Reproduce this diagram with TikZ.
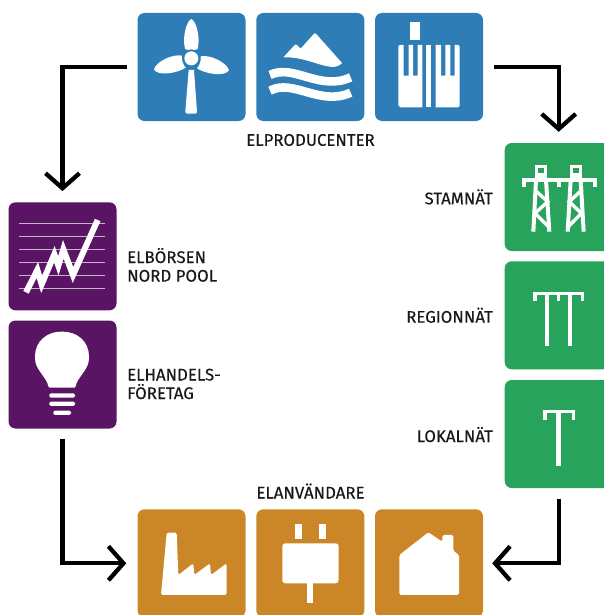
\documentclass[tikz,border=0pt]{standalone}
\usepackage{fontspec}
\setmainfont{Fira Sans}[FakeBold=0.35]
\usetikzlibrary{arrows.meta}
\definecolor{pblue}{HTML}{2E7DB7}
\definecolor{ppurple}{HTML}{591463}
\definecolor{pgreen}{HTML}{27A35C}
\definecolor{porange}{HTML}{CA8627}
\definecolor{pline}{HTML}{C9B2CE}
\tikzset{
  tile/.style={rectangle,rounded corners=7pt,minimum width=108pt,minimum height=108pt,inner sep=0pt,fill=#1},
  lbl/.style={font=\fontsize{16.8}{19}\selectfont,inner sep=0pt,text=black!90},
  flow/.style={line width=4.3pt,-{Straight Barb[length=15pt,width=34pt,line width=4.3pt]},black},
  zoomc/.style={x=0.33333pt,y=-0.33333pt},
  ico/.style={fill=white,rounded corners=1.5pt},
}
\begin{document}
\begin{tikzpicture}[x=1pt,y=-1pt]
\useasboundingbox (0,0) rectangle (604,615);
\clip (0,0) rectangle (604,615);
% tiles
\node[tile=pblue] (wind) at (191.5,67) {};
\node[tile=pblue] (hydro) at (310.3,67) {};
\node[tile=pblue] (plant) at (429,67) {};
\node[tile=ppurple] (borsen) at (62.5,256.3) {};
\node[tile=ppurple] (handel) at (62.5,374.5) {};
\node[tile=pgreen] (stam) at (558.7,197) {};
\node[tile=pgreen] (region) at (558.7,315.3) {};
\node[tile=pgreen] (lokal) at (558.7,434) {};
\node[tile=porange] (factory) at (191.5,563.3) {};
\node[tile=porange] (plug) at (310.3,563.3) {};
\node[tile=porange] (house) at (429,563.3) {};
% labels
\node[lbl,anchor=base] (lprod) at (310.5,145.8) {ELPRODUCENTER};
\node[lbl,anchor=base] (lanv) at (310.5,498.5) {ELANVÄNDARE};
\node[lbl,anchor=base west] (lbors) at (127,263) {ELBÖRSEN};
\node[lbl,anchor=base west] (lnord) at (127,281.6) {NORD POOL};
\node[lbl,anchor=base west] (lhand) at (127,380.5) {ELHANDELS-};
\node[lbl,anchor=base west] (lfor) at (127,399) {FÖRETAG};
\node[lbl,anchor=base east] (lstam) at (493,204.3) {STAMNÄT};
\node[lbl,anchor=base east] (lreg) at (493,322.7) {REGIONNÄT};
\node[lbl,anchor=base east] (llok) at (493,442) {LOKALNÄT};
% connectors
\draw[flow,shorten <=10.6pt,shorten >=11pt] (wind.west) -| (borsen.north);
\draw[flow,shorten <=10.6pt,shorten >=11pt] (plant.east) -| (stam.north);
\draw[flow,shorten <=10.6pt,shorten >=11pt] (handel.south) |- (factory.west);
\draw[flow,shorten <=10.6pt,shorten >=9pt] (lokal.south) |- (house.east);
% turbine
\begin{scope}[zoomc,shift={(420,45)}]
\fill[white] (146,165) -- (162,165) -- (171,290) to[out=-90,in=0] (165,296) -- (142,296) to[out=180,in=-90] (136,290) -- cycle;
\fill[white] (154,12) .. controls (140,18) and (126,65) .. (135,102) .. controls (145,107) and (163,107) .. (173,102) .. controls (182,65) and (168,18) .. (154,12) -- cycle;
\fill[white] (42,163) .. controls (50,138) and (100,116) .. (126,122) .. controls (124,136) and (130,150) .. (137,158) .. controls (110,176) and (52,184) .. (42,163) -- cycle;
\fill[white] (267,165) .. controls (257,140) and (208,118) .. (182,124) .. controls (184,138) and (178,152) .. (171,160) .. controls (198,178) and (257,186) .. (267,165) -- cycle;
\fill[pblue] (154,130) circle[radius=9pt];
\fill[white] (154,130) circle[radius=7pt];
\end{scope}
% hydro
\begin{scope}[zoomc,shift={(390,0)}]
\fill[white,rounded corners=1pt] (460,172) -- (497,132) -- (512,146) -- (555,98) -- (637,190) .. controls (600,220) and (540,170) .. (460,172) -- cycle;
\draw[white,line width=8.6pt] (420,225) .. controls (490,190) and (570,275) .. (662,232);
\draw[white,line width=8.6pt] (420,272) .. controls (490,235) and (570,320) .. (662,278);
\end{scope}
% plant
\begin{scope}[zoomc,shift={(1155,45)}]
\fill[white] (76,20) rectangle (106,76);
\fill[white] (46,90) -- (56,90) -- (56,182) -- (71,182) -- (71,90) -- (84,90) -- (84,182) -- (98,182) -- (98,90) -- (112,90) -- (112,277) -- (46,277) to[out=180,in=90] (40,271) -- (40,96) to[out=90,in=180] (46,90) -- cycle;
\fill[white] (124,90) rectangle (138,277);
\fill[white] (152,90) -- (168,90) -- (168,182) -- (181,182) -- (181,90) -- (196,90) -- (196,182) -- (209,182) -- (209,90) -- (218,90) to[out=0,in=90] (224,96) -- (224,271) to[out=-90,in=0] (218,277) -- (152,277) -- cycle;
\end{scope}
% chart
\begin{scope}[zoomc,shift={(0,585)}]
\foreach \yy in {85,124,163,202,241,281}
  \draw[pline,line width=1.3pt] (57,\yy) -- (315,\yy);
\draw[white,line width=6pt,miter limit=10] (78,292) -- (112,225) -- (125,268) -- (163,178) -- (175,212) -- (190,163) -- (219,240) -- (293,75);
\end{scope}
% bulb
\begin{scope}[zoomc,shift={(0,585)}]
\fill[white,rounded corners=1pt] (146,578) .. controls (140,545) and (105,525) .. (105,487) .. controls (105,440) and (140,410) .. (186,410) .. controls (232,410) and (267,440) .. (267,487) .. controls (267,525) and (232,545) .. (226,578) -- cycle;
\fill[ico] (148,595) rectangle (225,608);
\fill[ico] (148,620) rectangle (225,633);
\fill[ico] (160,647) rectangle (213,660);
\end{scope}
% towers
\begin{scope}[zoomc,shift={(1530,450)}]
\draw[white,line width=3.8pt] (42,112) -- (42,90) -- (255,90) -- (255,112);
\draw[white,line width=3.8pt] (147,90) -- (147,112);
\draw[white,line width=3.6pt] (80,85) -- (80,50) -- (107,50) -- (107,85);
\draw[white,line width=3.6pt] (185,85) -- (185,50) -- (212,50) -- (212,85);
\fill[white] (75,68) rectangle (112,85);
\fill[white] (180,68) rectangle (217,85);
\draw[white,line width=4pt] (78,90) -- (70,245);
\draw[white,line width=4pt] (108,90) -- (118,245);
\draw[white,line width=3.4pt] (80,125) -- (113,155) -- (75,190) -- (115,230);
\draw[white,line width=4pt] (182,90) -- (173,245);
\draw[white,line width=4pt] (212,90) -- (221,245);
\draw[white,line width=3.4pt] (210,125) -- (178,155) -- (214,190) -- (175,230);
\end{scope}
% regional and local poles
\begin{scope}[zoomc,shift={(1200,405)}]
\draw[white,line width=3.4pt] (405,498) -- (405,475) -- (548,475) -- (548,498);
\draw[white,line width=3.4pt] (476,475) -- (476,498);
\draw[white,line width=4.8pt] (441,475) -- (441,632);
\draw[white,line width=4.8pt] (510,475) -- (510,632);
\draw[white,line width=3.4pt] (435,856) -- (435,830) -- (520,830) -- (520,856);
\draw[white,line width=4.8pt] (476,830) -- (476,993);
\end{scope}
% factory, plug, house
\begin{scope}[zoomc,shift={(390,1440)}]
\fill[ico] (93,345) -- (110,158) -- (140,158) -- (145,285) -- (190,250) -- (193,285) -- (240,250) -- (243,285) -- (290,250) -- (290,345) -- cycle;
\fill[white] (495,132) rectangle (515,178);
\fill[white] (567,132) rectangle (587,178);
\fill[white,rounded corners=3pt] (457,190) -- (626,190) -- (626,310) -- (457,310) -- cycle;
\fill[white] (530,300) rectangle (550,370);
\fill[ico] (808,225) -- (895,157) -- (937,185) -- (937,165) -- (970,165) -- (970,212) -- (987,225) -- (987,345) -- (808,345) -- cycle;
\end{scope}
\end{tikzpicture}
\end{document}
